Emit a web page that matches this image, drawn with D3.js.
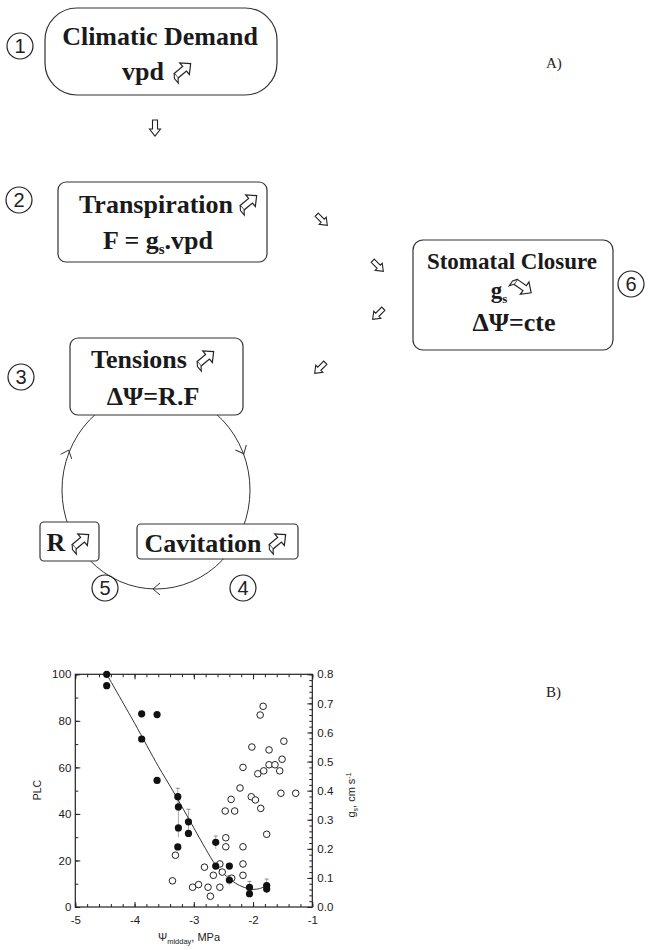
<!DOCTYPE html>
<html><head><meta charset="utf-8">
<script src="https://cdn.jsdelivr.net/npm/d3@7"></script>
<style>
html,body{margin:0;padding:0;background:#fff;}
svg{display:block;}
</style></head>
<body>
<script>
// ---------- DATA (panel B) ----------
const filledPsi = [-4.47,-4.47,-3.88,-3.62,-3.88,-3.62,-3.27,-3.26,-3.09,-3.26,-3.09,-3.27,-2.63,-2.63,-2.40,-2.40,-2.06,-2.06,-1.77,-1.77];
const filledPLC = [100,95.1,83,82.7,72.2,54.4,47.4,43,36.6,34,31.6,25.8,27.8,17.6,17.6,11.6,8.4,5.7,9.2,7.7];
const openPsi = [-1.83,-1.88,-2.02,-1.73,-1.48,-2.17,-1.92,-1.82,-1.73,-1.63,-1.51,-1.55,-2.22,-1.53,-1.28,-2.37,-2.03,-1.96,-2.47,-2.31,-1.87,-1.77,-2.46,-2.46,-2.17,-3.31,-2.56,-2.17,-2.82,-2.52,-2.67,-2.17,-2.36,-3.36,-3.02,-2.92,-2.76,-2.56,-2.72];
const openGs = [0.69,0.66,0.55,0.54,0.57,0.48,0.458,0.468,0.489,0.489,0.508,0.468,0.409,0.391,0.391,0.37,0.379,0.368,0.33,0.33,0.339,0.25,0.238,0.207,0.207,0.178,0.148,0.148,0.137,0.12,0.109,0.109,0.099,0.09,0.068,0.077,0.068,0.068,0.037];
const fitPsi = [-4.47,-4.0,-3.6,-3.35,-3.0,-2.8,-2.63,-2.45,-2.3,-2.15,-2.0,-1.89,-1.77];
const fitPLC = [100,79,60.5,49.8,34,25,18,13.2,10.3,8.4,7.6,7.9,9.2];
const errPsi = [-3.27,-3.26,-3.09,-2.63,-2.40,-2.06,-1.77];
const errLo  = [44,30,31.6,25,9.5,5,6];
const errHi  = [51,46,42,30.5,13.5,11,12];
const xTicks = [-5,-4,-3,-2,-1];
const plcTicks = [0,20,40,60,80,100];
const gsTicks = [0,0.1,0.2,0.3,0.4,0.5,0.6,0.7,0.8];

// ---------- SVG ----------
const W = 648, H = 950;
const svg = d3.select("body").append("svg").attr("width", W).attr("height", H);
const serif = "'Liberation Serif','Times New Roman',serif";
const sans = "'Liberation Sans',Arial,sans-serif";

// ---------- helpers ----------
function hollowArrow(len, sw, hw, hl) {
  const x0 = -len/2, x1 = len/2, xh = x1 - hl;
  return `M${x0},${-sw/2}L${xh},${-sw/2}L${xh},${-hw/2}L${x1},0L${xh},${hw/2}L${xh},${sw/2}L${x0},${sw/2}Z`;
}
function blockArrow(x, y, angle, len, sw, hw, hl) {
  svg.append("path").attr("d", hollowArrow(len, sw, hw, hl))
    .attr("transform", `translate(${x},${y}) rotate(${angle})`)
    .attr("fill", "#fff").attr("stroke", "#222").attr("stroke-width", 1.1)
    .attr("stroke-linejoin", "miter");
}
// icon: bent hollow arrow like the symbol next to words
function icon(x, y, angle) {
  const g = svg.append("g").attr("transform", `translate(${x},${y}) rotate(${angle})`);
  g.append("path").attr("d", "M-9,-3L2,-3L2,-7.5L10,0L2,7.5L2,3L-9,3Z")
    .attr("fill", "#fff").attr("stroke", "#222").attr("stroke-width", 1.2);
  g.append("path").attr("d", "M-9,-3L-12,1L-12,7L-9,3")
    .attr("fill", "#fff").attr("stroke", "#222").attr("stroke-width", 1.1);
}
function circled(x, y, n) {
  svg.append("circle").attr("cx", x).attr("cy", y).attr("r", 13)
    .attr("fill", "none").attr("stroke", "#222").attr("stroke-width", 1.2);
  svg.append("text").attr("x", x).attr("y", y + 7).attr("text-anchor", "middle")
    .attr("font-family", sans).attr("font-size", 20).attr("fill", "#222").text(n);
}
function box(x, y, w, h, r) {
  svg.append("rect").attr("x", x).attr("y", y).attr("width", w).attr("height", h)
    .attr("rx", r).attr("ry", r).attr("fill", "#fff").attr("stroke", "#333").attr("stroke-width", 1.2);
}
function label(x, y, size, anchor) {
  return svg.append("text").attr("x", x).attr("y", y).attr("text-anchor", anchor || "middle")
    .attr("font-family", serif).attr("font-weight", "bold").attr("font-size", size).attr("fill", "#1a1a1a");
}

// ---------- Panel A: cycle ellipse ----------
svg.append("ellipse").attr("cx", 156).attr("cy", 490).attr("rx", 94).attr("ry", 99)
  .attr("fill", "none").attr("stroke", "#333").attr("stroke-width", 1);
function chevron(x, y, angle) {
  svg.append("path").attr("d", "M-5,-6L2,0L-5,6")
    .attr("transform", `translate(${x},${y}) rotate(${angle})`)
    .attr("fill", "none").attr("stroke", "#333").attr("stroke-width", 1);
}
chevron(68, 452, -68);
chevron(243, 452, 65);
chevron(155, 589, 180);

// Box 1
box(45, 8, 232, 87, 32);
label(160, 45, 26).text("Climatic Demand");
label(143, 80, 26).text("vpd");
icon(183, 70, -40);
circled(20, 46, "1");

// arrow down
blockArrow(155, 128, 90, 16, 5, 11, 7);

// Box 2
box(58, 182, 209, 80, 8);
label(156, 213, 26).text("Transpiration");
icon(249, 202, -40);
const t2 = label(158, 249, 26);
t2.append("tspan").text("F = g");
t2.append("tspan").attr("font-size", 15).attr("dy", 5).text("s");
t2.append("tspan").attr("dy", -5).text(".vpd");
circled(19, 200, "2");

// diagonal arrows
blockArrow(322, 220, 45, 15, 4.5, 10, 6.5);
blockArrow(378, 266, 45, 15, 4.5, 10, 6.5);
blockArrow(378, 314, 135, 15, 4.5, 10, 6.5);
blockArrow(320, 368, 135, 15, 4.5, 10, 6.5);

// Box 6
box(413, 240, 200, 110, 10);
label(512, 269, 23).text("Stomatal Closure");
const t6 = label(499, 298, 23);
t6.append("tspan").text("g");
t6.append("tspan").attr("font-size", 13).attr("dy", 5).text("s");
icon(523, 287, 35);
label(514, 331, 26).text("ΔΨ=cte");
circled(631, 284, "6");

// Box 3
box(70, 338, 173, 77, 8);
label(139, 368, 26).text("Tensions");
icon(206, 358, -40);
label(153, 405, 26).text("ΔΨ=R.F");
circled(21, 377, "3");

// R box
box(40, 522, 59, 39, 4);
label(56, 551, 26).text("R");
icon(81, 541, -40);
// Cavitation box
box(137, 524, 161, 35, 4);
label(203, 552, 26).text("Cavitation");
icon(278, 541, -40);
circled(243, 588, "4");
circled(105, 588, "5");

// panel labels
svg.append("text").attr("x", 546).attr("y", 68).attr("font-family", serif).attr("font-size", 15).attr("fill", "#222").text("A)");
svg.append("text").attr("x", 546).attr("y", 697).attr("font-family", serif).attr("font-size", 15).attr("fill", "#222").text("B)");

// ---------- Panel B: scatter ----------
const x = d3.scaleLinear().domain([-5, -1]).range([75.3, 312.3]);
const yL = d3.scaleLinear().domain([0, 100]).range([907, 674.3]);
const yR = d3.scaleLinear().domain([0, 0.8]).range([907, 674.3]);
const pg = svg.append("g").attr("font-family", sans);
const hyphenInt = d => String(d).replace("\u2212", "-");

function styleAxis(g) {
  g.selectAll("text").attr("font-family", sans).attr("font-size", 11.5).attr("fill", "#1a1a1a");
  g.selectAll("line").attr("stroke", "#222");
  g.select(".domain").remove();
}
// minor ticks
pg.append("g").attr("transform", "translate(0,907)")
  .call(d3.axisBottom(x).tickValues(d3.range(-5, -0.99, 0.2)).tickSize(-3).tickSizeOuter(0).tickFormat(""))
  .call(styleAxis);
pg.append("g").attr("transform", "translate(0,674.3)")
  .call(d3.axisTop(x).tickValues(d3.range(-5, -0.99, 0.2)).tickSize(-3).tickSizeOuter(0).tickFormat(""))
  .call(styleAxis);
pg.append("g").attr("transform", "translate(312.3,0)")
  .call(d3.axisRight(yR).tickValues(d3.range(0, 0.801, 0.02)).tickSize(-3).tickSizeOuter(0).tickFormat(""))
  .call(styleAxis);
pg.append("g").attr("transform", "translate(75.3,0)")
  .call(d3.axisLeft(yL).tickValues(d3.range(0, 101, 10)).tickSize(-3).tickSizeOuter(0).tickFormat(""))
  .call(styleAxis);
// major ticks + labels
pg.append("g").attr("transform", "translate(0,907)")
  .call(d3.axisBottom(x).tickValues(xTicks).tickSize(-5).tickSizeOuter(0).tickPadding(9).tickFormat(hyphenInt))
  .call(styleAxis);
pg.append("g").attr("transform", "translate(0,674.3)")
  .call(d3.axisTop(x).tickValues(xTicks).tickSize(-5).tickSizeOuter(0).tickFormat(""))
  .call(styleAxis);
pg.append("g").attr("transform", "translate(75.3,0)")
  .call(d3.axisLeft(yL).tickValues(plcTicks).tickSize(-5).tickSizeOuter(0).tickPadding(4))
  .call(styleAxis);
pg.append("g").attr("transform", "translate(312.3,0)")
  .call(d3.axisRight(yR).tickValues(gsTicks).tickSize(-5).tickSizeOuter(0).tickPadding(5).tickFormat(d3.format(".1f")))
  .call(styleAxis);
// frame
pg.append("rect").attr("x", 75.3).attr("y", 674.3).attr("width", 237).attr("height", 232.7)
  .attr("fill", "none").attr("stroke", "#222").attr("stroke-width", 1.2);

// error bars
errPsi.forEach((p, i) => {
  const gx = x(p);
  pg.append("line").attr("x1", gx).attr("x2", gx).attr("y1", yL(errLo[i])).attr("y2", yL(errHi[i]))
    .attr("stroke", "#aaa").attr("stroke-width", 1);
  pg.append("line").attr("x1", gx - 2).attr("x2", gx + 2).attr("y1", yL(errHi[i])).attr("y2", yL(errHi[i]))
    .attr("stroke", "#888").attr("stroke-width", 1);
});

// fitted curve
const fit = fitPsi.map((p, i) => [p, fitPLC[i]]);
pg.append("path").datum(fit)
  .attr("d", d3.line().x(d => x(d[0])).y(d => yL(d[1])).curve(d3.curveCatmullRom.alpha(0.5)))
  .attr("fill", "none").attr("stroke", "#333").attr("stroke-width", 1);

// open circles (gs)
pg.selectAll("circle.open").data(openPsi.map((p, i) => [p, openGs[i]])).enter()
  .append("circle").attr("class", "open")
  .attr("cx", d => x(d[0])).attr("cy", d => yR(d[1])).attr("r", 3.3)
  .attr("fill", "#fff").attr("stroke", "#222").attr("stroke-width", 1);
// filled circles (PLC)
pg.selectAll("circle.fill").data(filledPsi.map((p, i) => [p, filledPLC[i]])).enter()
  .append("circle").attr("class", "fill")
  .attr("cx", d => x(d[0])).attr("cy", d => yL(d[1])).attr("r", 3.6)
  .attr("fill", "#111");

// axis titles
pg.append("text").attr("transform", "translate(41,790) rotate(-90)").attr("text-anchor", "middle")
  .attr("font-size", 10.5).attr("fill", "#222").text("PLC");
const gsT = pg.append("text").attr("transform", "translate(355,795) rotate(-90)").attr("text-anchor", "middle")
  .attr("font-size", 11).attr("fill", "#222");
gsT.append("tspan").text("g");
gsT.append("tspan").attr("font-size", 7).attr("dy", 3).text("s");
gsT.append("tspan").attr("dy", -3).text(", cm s");
gsT.append("tspan").attr("font-size", 7).attr("dy", -4).text("-1");
const xT = pg.append("text").attr("x", 189).attr("y", 941).attr("text-anchor", "middle")
  .attr("font-size", 11).attr("fill", "#222");
xT.append("tspan").text("Ψ");
xT.append("tspan").attr("font-size", 7.5).attr("dy", 3).text("midday");
xT.append("tspan").attr("dy", -3).text(", MPa");
</script>
</body></html>
